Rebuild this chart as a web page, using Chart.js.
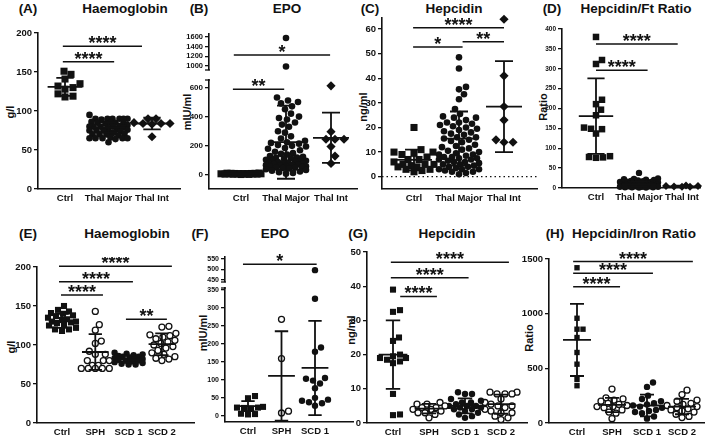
<!DOCTYPE html>
<html>
<head>
<meta charset="utf-8">
<script src="https://cdn.jsdelivr.net/npm/chart.js@4.4.1/dist/chart.umd.min.js"></script>
<style>
  body { margin: 0; width: 709px; height: 435px; position: relative; overflow: hidden; background: #fff;
         font-family: "Liberation Sans", Arial, sans-serif; color: #111; }
  canvas { position: absolute; }
  .txt { position: absolute; font-weight: bold; white-space: nowrap; line-height: 1; transform: translate(-50%, -50%); }
  .ttl { font-size: 13.5px; }
  .ylab { font-size: 11px; transform: translate(-50%, -50%) rotate(-90deg); }
</style>
</head>
<body>
<div class="txt ttl" style="left:28px;top:9px">(A)</div>
<div class="txt ttl" style="left:125px;top:9px">Haemoglobin</div>
<div class="txt ttl" style="left:199px;top:9px">(B)</div>
<div class="txt ttl" style="left:287px;top:9px">EPO</div>
<div class="txt ttl" style="left:370px;top:9px">(C)</div>
<div class="txt ttl" style="left:454px;top:9px">Hepcidin</div>
<div class="txt ttl" style="left:552px;top:9px">(D)</div>
<div class="txt ttl" style="left:636px;top:9px">Hepcidin/Ft Ratio</div>
<div class="txt ttl" style="left:28px;top:234px">(E)</div>
<div class="txt ttl" style="left:127px;top:234px">Haemoglobin</div>
<div class="txt ttl" style="left:200px;top:234px">(F)</div>
<div class="txt ttl" style="left:275px;top:234px">EPO</div>
<div class="txt ttl" style="left:358px;top:234px">(G)</div>
<div class="txt ttl" style="left:447px;top:234px">Hepcidin</div>
<div class="txt ttl" style="left:555px;top:234px">(H)</div>
<div class="txt ttl" style="left:634px;top:234px">Hepcidin/Iron Ratio</div>

<div class="txt ylab" style="left:10px;top:112px">g/l</div>
<div class="txt ylab" style="left:187px;top:112px">mIU/ml</div>
<div class="txt ylab" style="left:363px;top:107px">ng/ml</div>
<div class="txt ylab" style="left:543px;top:107px">Ratio</div>
<div class="txt ylab" style="left:11px;top:347px">g/l</div>
<div class="txt ylab" style="left:203px;top:333px">mIU/ml</div>
<div class="txt ylab" style="left:351px;top:330px">ng/ml</div>
<div class="txt ylab" style="left:529px;top:338px">Ratio</div>

<script>
const thalGroups = ["Ctrl", "Thal Major", "Thal Int"];
const scdGroups = ["Ctrl", "SPH", "SCD 1", "SCD 2"];
const scdGroupsF = ["Ctrl", "SPH", "SCD 1"];

// (A) Haemoglobin, g/l
const aCtrl = [151, 147, 141, 135, 132, 130, 128, 122, 119, 118];
const aMajor = [95, 90, 90, 90, 90, 90, 90, 89, 86, 85, 85, 85, 85, 84, 82, 81, 80, 80, 80, 80, 79, 78, 77, 76,
                75, 75, 75, 74, 73, 72, 71, 70, 70, 70, 69, 66, 65, 65, 65, 65, 65, 64, 60];
const aInt = [90, 90, 84, 84, 84, 85, 83, 67];
const aMean = [131, 79, 84];
const aSD = [11.5, 6.5, 7.5];
const aSig = [[-0.05, 1.77, 183, "****"], [-0.05, 1.13, 163, "****"]];
const aTicks = [0, 50, 100, 150, 200];

// (B) EPO, mIU/ml
const bCtrl = [14, 13, 12, 12, 11, 11, 10, 10, 10, 9, 9, 9, 8, 8, 8, 7, 7, 6, 5, 4];
const bMajor = [1580, 990, 530, 510, 500, 490, 470, 450, 420, 400, 390, 380, 360, 345, 330, 300, 290, 265, 250,
                235, 225, 220, 215, 205, 200, 195, 185, 180, 170, 160, 150, 145, 140, 130, 125, 120, 118, 115,
                110, 105, 100, 98, 95, 92, 90, 85, 82, 80, 78, 75, 72, 70, 68, 65, 62, 60, 58, 55, 52, 50, 48,
                45, 40, 35, 30, 25, 20, 15, 10];
const bInt = [610, 297, 245, 245, 245, 195, 130, 80];
const bMean = [10, 225, 255];
const bSD = [4, 250, 172];
const bSigLow = [[-0.18, 0.96, 587, "**"]];
const bSigHigh = [[-0.16, 1.98, 1230, "*"]];
const bTicksLow = [0, 200, 400, 600];
const bTicksHigh = [1000, 1200, 1400, 1600];

// (C) Hepcidin, ng/ml
const cCtrl = [20, 11, 10, 10, 9.5, 9, 8, 7, 7, 6, 5, 5, 5, 4.5, 4, 4, 3, 3, 2.5, 2];
const cMajor = [48.5, 44, 36.5, 35.5, 33.5, 31.5, 27.5, 25.5, 24.5, 24, 24, 23, 22, 22, 21.5, 21, 20.5, 20, 19.5,
                19, 18.5, 18, 17.5, 17, 16, 16, 15.5, 15, 14.5, 14, 13, 12.5, 12, 11.5, 11, 10.5, 10, 9.5, 9, 9,
                8.5, 8, 8, 7.5, 7.5, 7, 7, 6.5, 6, 6, 5.5, 5, 5, 4.5, 4, 4, 3.5, 3, 3, 3, 2.5, 2, 2, 1.5, 1];
const cInt = [64, 41, 28.5, 23, 15, 14, 14];
const cMean = [6.8, 15.5, 28.5];
const cSD = [4.2, 11, 18.5];
const cSig = [[-0.02, 2.0, 60.5, "****"], [-0.02, 1.08, 52.7, "*"], [1.08, 2.0, 54.8, "**"]];
const cTicks = [0, 10, 20, 30, 40, 50, 60];

// (D) Hepcidin/Ft ratio
const dCtrl = [380, 322, 312, 222, 211, 197, 183, 152, 149, 148, 137, 80, 78, 77, 76];
const dMajor = [38, 24, 23, 22, 21, 20, 19, 18, 17, 16, 15, 15, 14, 13, 13, 12, 12, 11, 11, 10, 10, 10, 9, 9, 9,
                8, 8, 8, 7, 7, 7, 6, 6, 6, 5, 5, 5, 4, 4, 4, 3, 3, 3, 2, 2, 2, 1, 1];
const dInt = [6, 5, 5, 4, 3, 3];
const dMean = [181, 10, 4];
const dSD = [95, 6, 2];
const dSig = [[0, 1.9, 362, "****"], [0, 1.2, 296, "****"]];
const dTicks = [0, 50, 100, 150, 200, 250, 300, 350, 400];

// (E) Haemoglobin, g/l
const eCtrl = [150, 145, 143, 141, 140, 138, 137, 135, 133, 132, 130, 130, 129, 128, 126, 125, 122, 120, 120, 118];
const eSph = [143, 126, 119, 105, 102, 92, 88, 88, 80, 80, 80, 74, 74, 70, 70, 70, 70, 70];
const eScd1 = [90, 89, 88, 87, 86, 85, 85, 84, 83, 82, 82, 81, 80, 80, 79, 78, 77, 76, 75, 75];
const eScd2 = [124, 123, 115, 113, 112, 110, 108, 106, 104, 102, 100, 98, 96, 93, 90, 88, 85, 83, 82, 80];
const eMean = [131, 91, 82, 101];
const eSD = [9, 23, 4.5, 14];
const eSig = [[-0.09, 3.3, 201, "****"], [-0.09, 2.13, 181, "****"], [-0.03, 1.23, 164, "****"], [1.92, 3.15, 133, "**"]];
const eTicks = [0, 50, 100, 150, 200];

// (F) EPO, mIU/ml
const fCtrl = [55, 49, 25, 23, 23, 22, 20, 6, 5, 4];
const fSph = [268, 159, 13, 8];
const fScd1 = [497, 325, 190, 178, 105, 103, 98, 90, 77, 50, 45, 42, 38, 35, 28];
const fMean = [27, 111, 133];
const fSD = [14, 124, 131];
const fSigHigh = [[-0.15, 2.05, 525, "*"]];
const fTicksLow = [0, 50, 100, 150, 200, 250, 300, 350];
const fTicksHigh = [450, 500, 550];

// (G) Hepcidin, ng/ml
const gCtrl = [39, 33, 32.5, 25, 24, 20, 19.5, 19, 19, 18.5, 18, 17.5, 8.5, 2.5, 2.3];
const gSph = [6, 5.5, 5.5, 5, 4.5, 4.5, 4, 4, 3.5, 3, 3, 2.5, 1.5];
const gScd1 = [9, 8.5, 8.5, 7, 6.5, 6, 6, 5.5, 5, 5, 5, 4.5, 4.5, 4, 4, 3.5, 3, 2.5, 2, 1.5];
const gScd2 = [9, 9, 8.5, 8.5, 8.5, 7, 6, 5.5, 5, 5, 4.5, 4, 3.5, 3, 3, 2, 1.5, 1];
const gMean = [20, 4.2, 5, 5.5];
const gSD = [10, 1.4, 2.2, 2.8];
const gSig = [[-0.06, 3.22, 47, "****"], [-0.06, 2.1, 42.5, "****"], [0.2, 1.22, 37, "****"]];
const gTicks = [0, 10, 20, 30, 40, 50];

// (H) Hepcidin/Iron ratio
const hCtrl = [1420, 958, 858, 858, 782, 645, 538, 398, 341];
const hSph = [310, 230, 220, 210, 200, 180, 170, 160, 150, 150, 140, 120, 100, 90, 40];
const hScd1 = [370, 330, 250, 220, 200, 180, 170, 160, 150, 140, 120, 110, 100, 90, 60, 40];
const hScd2 = [300, 260, 210, 200, 180, 170, 160, 150, 140, 130, 120, 110, 100, 80, 60, 50];
const hMean = [760, 165, 160, 150];
const hSD = [330, 65, 100, 70];
const hSig = [[-0.11, 3.31, 1476, "****"], [-0.11, 2.17, 1369, "****"], [-0.11, 1.23, 1247, "****"]];
const hTicks = [0, 500, 1000, 1500];

const INK = "#111";
const FONT = "'Liberation Sans', Arial, sans-serif";

const thalMarks = [{s: "rect", r: 5}, {s: "circle", r: 3.3}, {s: "rectRot", r: 4.6}];
const dMarks = [{s: "rect", r: 4.6}, {s: "circle", r: 3.2}, {s: "rectRot", r: 4}];
const scdMarks = [{s: "rect", r: 4.3}, {s: "circle", r: 3, open: true}, {s: "circle", r: 3.2}, {s: "circle", r: 3, open: true}];
const hMarks = [{s: "rect", r: 3.8}, {s: "circle", r: 3, open: true}, {s: "circle", r: 3.2}, {s: "circle", r: 3, open: true}];

// simple beeswarm: x offsets in px for each value, packed around the column centre
function swarm(vals, ppy, d, half) {
  const order = vals.map((v, i) => i).sort((a, b) => vals[a] - vals[b]);
  const placed = [];
  const out = [];
  order.forEach(i => {
    const py = vals[i] * ppy;
    let best = 0, bestD = -1;
    for (let k = 0; k <= 2 * half; k++) {
      const dx = (k % 2 ? 1 : -1) * Math.ceil(k / 2);
      if (Math.abs(dx) > half) break;
      let m = Infinity;
      placed.forEach(q => { m = Math.min(m, Math.hypot(dx - q[0], py - q[1])); });
      if (m >= d) { best = dx; break; }
      if (m > bestD) { bestD = m; best = dx; }
    }
    placed.push([best, py]);
    out[i] = best;
  });
  return out;
}

function markWidth(m) {
  if (m.s === "rect") return m.r * 1.414;
  if (m.s === "rectRot") return m.r * 1.7;
  return m.r * 2;
}

function drawMarks(chart, p) {
  const {ctx, chartArea: area} = chart;
  const x = chart.scales.x, y = chart.scales.y;
  ctx.save();
  ctx.strokeStyle = INK;
  ctx.fillStyle = INK;
  ctx.lineCap = "butt";
  ctx.lineWidth = 1.8;
  (p.mean || []).forEach((m, i) => {
    const sd = p.sd[i];
    const xc = x.getPixelForValue(i);
    const ym = y.getPixelForValue(m), yt = y.getPixelForValue(m + sd), yb = y.getPixelForValue(m - sd);
    ctx.beginPath();
    ctx.moveTo(x.getPixelForValue(i - 0.4), ym); ctx.lineTo(x.getPixelForValue(i + 0.4), ym);
    ctx.moveTo(xc, yt); ctx.lineTo(xc, yb);
    ctx.moveTo(x.getPixelForValue(i - 0.2), yt); ctx.lineTo(x.getPixelForValue(i + 0.2), yt);
    ctx.moveTo(x.getPixelForValue(i - 0.2), yb); ctx.lineTo(x.getPixelForValue(i + 0.2), yb);
    ctx.stroke();
  });
  ctx.lineWidth = 1.5;
  ctx.font = "bold 18px " + FONT;
  ctx.textAlign = "center";
  ctx.textBaseline = "alphabetic";
  (p.sig || []).forEach(([a, b, v, label]) => {
    const py = y.getPixelForValue(v);
    const xa = x.getPixelForValue(a), xb = x.getPixelForValue(b);
    ctx.beginPath();
    ctx.moveTo(xa, py); ctx.lineTo(xb, py);
    ctx.stroke();
    ctx.fillText(label, (xa + xb) / 2, py + 3);
  });
  // short hooks where the y axis is broken
  ctx.lineWidth = 1.3;
  if (p.breakTop) {
    ctx.beginPath(); ctx.moveTo(area.left - 4, area.top); ctx.lineTo(area.left + 1, area.top); ctx.stroke();
  }
  if (p.breakBottom) {
    ctx.beginPath(); ctx.moveTo(area.left - 4, area.bottom); ctx.lineTo(area.left + 1, area.bottom); ctx.stroke();
  }
  ctx.restore();
}

function zeroLine(chart, p) {
  if (!p.zeroLine) return;
  const {ctx, chartArea: area} = chart;
  const py = chart.scales.y.getPixelForValue(0);
  ctx.save();
  ctx.strokeStyle = INK;
  ctx.lineWidth = 1.2;
  ctx.setLineDash([1.5, 3]);
  ctx.beginPath(); ctx.moveTo(area.left, py); ctx.lineTo(area.right, py); ctx.stroke();
  ctx.restore();
}

function makeChart(p) {
  const yw = 44, padTop = 10, padRight = 20;
  const xh = p.hideX ? 0 : 22;
  const padBottom = p.hideX ? 8 : 0;
  const cLeft = p.left - yw, cTop = p.top - padTop;
  const cw = p.right + padRight - cLeft, ch = p.bottom + xh + padBottom - cTop;
  const canvas = document.createElement("canvas");
  canvas.width = cw; canvas.height = ch;
  canvas.style.left = cLeft + "px"; canvas.style.top = cTop + "px";
  canvas.style.width = cw + "px"; canvas.style.height = ch + "px";
  document.body.appendChild(canvas);

  const step = p.step;
  const xMin = -(p.firstCat - p.left) / step;
  const xMax = (p.right - p.firstCat) / step;
  const ppy = (p.bottom - p.top) / (p.yMax - p.yMin);

  const datasets = p.groups.map((vals, gi) => {
    const m = p.marks[gi];
    const inRange = vals.filter(v => v >= p.yMin && v <= p.yMax);
    const offs = swarm(inRange, ppy, markWidth(m) + 0.4, 0.45 * step);
    return {
      data: inRange.map((v, i) => ({x: gi + offs[i] / step, y: v})),
      pointStyle: m.s,
      pointRadius: m.r,
      pointHoverRadius: m.r,
      backgroundColor: m.open ? "#fff" : INK,
      borderColor: INK,
      borderWidth: m.open ? 1.3 : 0,
      showLine: false,
      clip: false
    };
  });

  const tickFont = {family: FONT, weight: "bold", size: p.tickSize || 9.5};
  new Chart(canvas, {
    type: "scatter",
    data: {datasets},
    options: {
      animation: false,
      responsive: false,
      devicePixelRatio: 1,
      layout: {autoPadding: false, padding: {left: 0, top: padTop, right: padRight, bottom: padBottom}},
      plugins: {legend: {display: false}, tooltip: {enabled: false}},
      scales: {
        x: {
          type: "linear",
          display: !p.hideX,
          min: xMin, max: xMax,
          afterBuildTicks: s => { s.ticks = p.cats.map((c, i) => ({value: i})); },
          afterFit: s => { s.height = xh; },
          grid: {display: false, drawTicks: false},
          border: {display: true, color: INK, width: 1.6},
          ticks: {
            autoSkip: false, maxRotation: 0, minRotation: 0, padding: 4,
            color: INK, font: {family: FONT, weight: "bold", size: 9.5},
            callback: (v, i) => p.cats[i]
          }
        },
        y: {
          type: "linear",
          min: p.yMin, max: p.yMax,
          afterBuildTicks: s => { s.ticks = p.ticks.map(v => ({value: v})); },
          afterFit: s => { s.width = yw; },
          grid: {display: true, drawOnChartArea: false, drawTicks: true, tickLength: 4, color: INK, lineWidth: 1.3},
          border: {display: true, color: INK, width: 1.6},
          ticks: {autoSkip: false, padding: 2, color: INK, font: tickFont, callback: v => String(v)}
        }
      }
    },
    plugins: [{
      id: "marks",
      beforeDatasetsDraw: chart => zeroLine(chart, p),
      afterDatasetsDraw: chart => drawMarks(chart, p)
    }]
  });
}

// top row
makeChart({left: 38, right: 180, top: 33, bottom: 189, yMin: 0, yMax: 200, ticks: aTicks,
  firstCat: 65, step: 43.5, cats: thalGroups, groups: [aCtrl, aMajor, aInt], marks: thalMarks,
  mean: aMean, sd: aSD, sig: aSig});
makeChart({left: 209, right: 357, top: 34, bottom: 70, yMin: 917, yMax: 1662, ticks: bTicksHigh, hideX: true,
  firstCat: 241, step: 45, cats: thalGroups, groups: [bCtrl, bMajor, bInt], marks: thalMarks,
  sig: bSigHigh, breakBottom: true, tickSize: 7.5});
makeChart({left: 209, right: 357, top: 80, bottom: 189, yMin: -95, yMax: 650, ticks: bTicksLow,
  firstCat: 241, step: 45, cats: thalGroups, groups: [bCtrl, bMajor, bInt], marks: thalMarks,
  mean: bMean, sd: bSD, sig: bSigLow, breakTop: true, tickSize: 8});
makeChart({left: 382, right: 537, top: 18, bottom: 189, yMin: -5, yMax: 64.5, ticks: cTicks,
  firstCat: 414, step: 45, cats: thalGroups, groups: [cCtrl, cMajor, cInt], marks: thalMarks,
  mean: cMean, sd: cSD, sig: cSig, zeroLine: true});
makeChart({left: 562, right: 700, top: 29, bottom: 188, yMin: 0, yMax: 400, ticks: dTicks,
  firstCat: 596, step: 43, cats: thalGroups, groups: [dCtrl, dMajor, dInt], marks: dMarks,
  mean: dMean, sd: dSD, sig: dSig, tickSize: 6.5});

// bottom row
makeChart({left: 37, right: 194, top: 267, bottom: 423, yMin: 0, yMax: 200, ticks: eTicks,
  firstCat: 62, step: 33.3, cats: scdGroups, groups: [eCtrl, eSph, eScd1, eScd2], marks: scdMarks,
  mean: eMean, sd: eSD, sig: eSig});
makeChart({left: 225, right: 353, top: 257, bottom: 282, yMin: 440, yMax: 560, ticks: fTicksHigh, hideX: true,
  firstCat: 248, step: 33.5, cats: scdGroupsF, groups: [fCtrl, fSph, fScd1], marks: scdMarks,
  sig: fSigHigh, breakBottom: true, tickSize: 7});
makeChart({left: 225, right: 353, top: 288, bottom: 422, yMin: -17, yMax: 355, ticks: fTicksLow,
  firstCat: 248, step: 33.5, cats: scdGroupsF, groups: [fCtrl, fSph, fScd1], marks: scdMarks,
  mean: fMean, sd: fSD, breakTop: true, tickSize: 7});
makeChart({left: 367, right: 527, top: 252, bottom: 423, yMin: 0, yMax: 50, ticks: gTicks,
  firstCat: 393, step: 36, cats: scdGroups, groups: [gCtrl, gSph, gScd1, gScd2], marks: scdMarks,
  mean: gMean, sd: gSD, sig: gSig});
makeChart({left: 549, right: 704, top: 259, bottom: 423, yMin: 0, yMax: 1500, ticks: hTicks,
  firstCat: 577, step: 35, cats: scdGroups, groups: [hCtrl, hSph, hScd1, hScd2], marks: hMarks,
  mean: hMean, sd: hSD, sig: hSig});
</script>
</body>
</html>
